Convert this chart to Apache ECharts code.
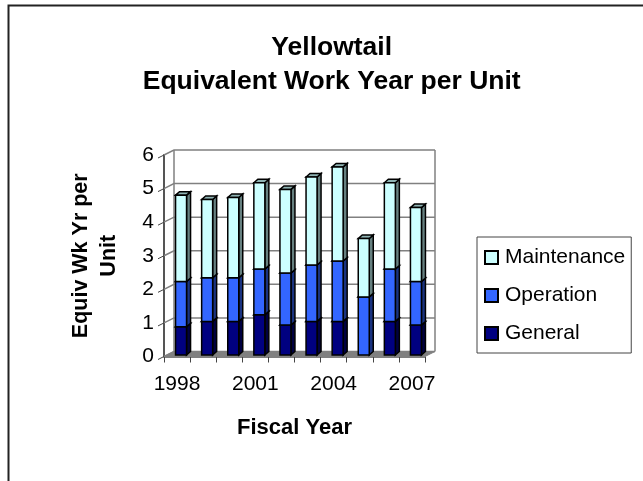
<!DOCTYPE html>
<html><head><meta charset="utf-8">
<style>html,body{margin:0;padding:0;background:#fff}#c{width:643px;height:481px}</style>
<script src="https://cdn.jsdelivr.net/npm/echarts@6/dist/echarts.min.js"></script>
</head><body><div id="c"></div>
<script>
const categories = ['1998','1999','2000','2001','2002','2003','2004','2005','2006','2007'];
const general = [0.84,1.0,1.0,1.2,0.89,1.0,1.0,0,1.0,0.89];
const operation = [1.35,1.3,1.3,1.36,1.55,1.68,1.8,1.73,1.56,1.3];
const maintenance = [2.57,2.33,2.39,2.57,2.49,2.62,2.8,1.74,2.57,2.2];
const ticks = [0,1,2,3,4,5,6];
const FONT = '"Liberation Sans", Arial, sans-serif';
const DX = 10, DY = -5;      // wall depth
const BDX = 4, BDY = -3.5, BW = 11; // bar depth, bar width

function shade(hex, k) {
  const n = parseInt(hex.slice(1), 16);
  const f = s => Math.round(((n >> s) & 255) * k);
  return 'rgb(' + f(16) + ',' + f(8) + ',' + f(0) + ')';
}
function barSeries(name, color, values, below) {
  return {
    name, type: 'custom', z: 5,
    itemStyle: { color, borderColor: '#000', borderWidth: 1.5 },
    data: values.map((v, i) => [i, below[i], below[i] + v]),
    encode: { x: 0, y: [1, 2] },
    renderItem(params, api) {
      const lo = api.value(1), hi = api.value(2);
      if (hi - lo <= 0) return { type: 'group', children: [] };
      const a = api.coord([api.value(0), lo]);
      const b = api.coord([api.value(0), hi]);
      const x0 = a[0] - BW / 2 + 4, x1 = x0 + BW, y0 = a[1] - 1.5, y1 = b[1] - 1.5;
      const st = (f) => ({ fill: f, stroke: '#000', lineWidth: 1.5 });
      return { type: 'group', children: [
        { type: 'polygon', shape: { points: [[x1,y0],[x1+BDX,y0+BDY],[x1+BDX,y1+BDY],[x1,y1]] }, style: st(shade(color, 0.5)) },
        { type: 'polygon', shape: { points: [[x0,y1],[x0+BDX,y1+BDY],[x1+BDX,y1+BDY],[x1,y1]] }, style: st(shade(color, 0.7)) },
        { type: 'rect', shape: { x: x0, y: y1, width: BW, height: y0 - y1 }, style: st(color) }
      ]};
    }
  };
}
const zero = categories.map(() => 0);
const opBase = general.slice();
const mtBase = general.map((v, i) => v + operation[i]);

const wallSeries = {
  type: 'custom', silent: true, z: 2, legendHoverLink: false,
  data: ticks.map(t => [0, t]),
  encode: { x: 0, y: 1 },
  renderItem(params, api) {
    const t = api.value(1);
    const p = api.coord([0, t]);
    const cs = params.coordSys;
    const xL = cs.x, xR = cs.x + cs.width;
    const line = { stroke: '#808080', lineWidth: 1.5 };
    const kids = [
      { type: 'polyline', shape: { points: [[xL, p[1]], [xL + DX, p[1] + DY], [xR + DX, p[1] + DY]] }, style: { ...line, fill: null } },
      { type: 'line', shape: { x1: xL - 6, y1: p[1] + 3, x2: xL, y2: p[1] }, style: { stroke: '#444', lineWidth: 1 } }
    ];
    if (t === 0) {
      kids.unshift({ type: 'polygon', shape: { points: [[xL, p[1]], [xL + DX, p[1] + DY], [xR + DX, p[1] + DY], [xR, p[1]]] }, style: { fill: '#808080', stroke: '#808080' } });
      kids.push({ type: 'line', shape: { x1: xL + DX, y1: p[1] + DY, x2: xL + DX, y2: cs.y + DY }, style: line });
      kids.push({ type: 'line', shape: { x1: xR + DX, y1: p[1] + DY, x2: xR + DX, y2: cs.y + DY }, style: line });
    }
    return { type: 'group', children: kids };
  }
};

const chart = echarts.init(document.getElementById('c'), null, { renderer: 'canvas' });
chart.setOption({
  animation: false,
  backgroundColor: '#fff',
  graphic: [
    { type: 'polyline', shape: { points: [[8.5, 481], [8.5, 5.5], [643, 5.5]] }, style: { fill: null, stroke: '#222', lineWidth: 2 } }
  ],
  title: {
    text: 'Yellowtail\nEquivalent Work Year per Unit',
    left: 331.7, top: 30.5, textAlign: 'center', padding: 0,
    textStyle: { fontFamily: FONT, fontSize: 26.5, fontWeight: 'bold', color: '#000', lineHeight: 34 }
  },
  legend: {
    orient: 'vertical', left: 477, top: 237, width: 156,
    data: ['Maintenance', 'Operation', 'General'],
    icon: 'rect', itemWidth: 13, itemHeight: 13, itemGap: 17,
    padding: [10, 6, 9, 7],
    borderColor: '#444', borderWidth: 1,
    selectedMode: false,
    textStyle: { fontFamily: FONT, fontSize: 21, color: '#000', padding: [0, 0, 0, 2] }
  },
  grid: { left: 164, right: 218, top: 155, bottom: 124.5 },
  xAxis: {
    type: 'category', data: categories, boundaryGap: true,
    name: 'Fiscal Year', nameLocation: 'middle', nameGap: 60,
    nameTextStyle: { fontFamily: FONT, fontSize: 22, fontWeight: 'bold', color: '#000' },
    axisLine: { lineStyle: { color: '#555', width: 1.5 } },
    axisTick: { show: true, alignWithLabel: false, interval: 0, length: 6, lineStyle: { color: '#444' } },
    axisLabel: { interval: 2, fontFamily: FONT, fontSize: 21, color: '#000', margin: 17, hideOverlap: false }
  },
  yAxis: {
    type: 'value', min: 0, max: 6, interval: 1,
    name: 'Equiv Wk Yr per\nUnit', nameLocation: 'middle', nameGap: 41, nameRotate: 90,
    nameTextStyle: { fontFamily: FONT, fontSize: 21.5, fontWeight: 'bold', color: '#000', lineHeight: 28 },
    axisLine: { show: true, lineStyle: { color: '#555', width: 2 } },
    axisTick: { show: false },
    splitLine: { show: false },
    axisLabel: { fontFamily: FONT, fontSize: 21, color: '#000', margin: 10 }
  },
  series: [
    wallSeries,
    barSeries('General', '#000080', general, zero),
    barSeries('Operation', '#3366FF', operation, opBase),
    barSeries('Maintenance', '#CCFFFF', maintenance, mtBase)
  ]
});
</script></body></html>
